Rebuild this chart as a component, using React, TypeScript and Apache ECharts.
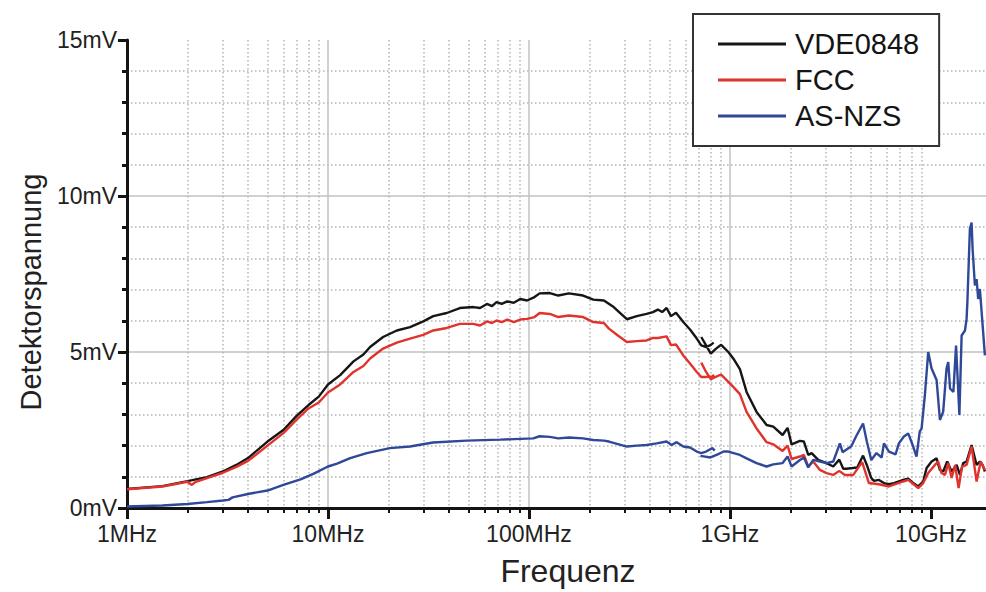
import React, { useEffect, useRef } from 'react';
import * as echarts from 'echarts';

// ---------- data (frequency in MHz, detector voltage in mV) ----------
const decadeTicks = [1, 10, 100, 1000, 10000];
const decadeLabels = ['1MHz', '10MHz', '100MHz', '1GHz', '10GHz'];
const minorTickValues = [
  2, 3, 4, 5, 6, 7, 8, 9,
  20, 30, 40, 50, 60, 70, 80, 90,
  200, 300, 400, 500, 600, 700, 800, 900,
  2000, 3000, 4000, 5000, 6000, 7000, 8000, 9000,
];
const yTickValues = [0, 5, 10, 15];

// VDE0848 (black) – first sweep
const vdeFreqA = [1, 1.5, 2, 2.5, 3, 3.5, 4, 5, 6, 7, 8, 9, 10, 11.5, 13.4, 15, 16.2, 18.8, 22, 25.6, 29.8, 33.4, 39, 45.3, 52.9, 57.1, 61.8, 65.5, 69, 73.2, 78, 84, 90.5, 97.8, 106.6, 113, 127, 140, 158, 186, 209, 236, 264, 290, 307, 344, 385, 414, 438, 460, 484, 509, 539, 586, 633, 684, 720, 761, 800, 830];
const vdeValA = [0.61, 0.70, 0.86, 0.99, 1.17, 1.38, 1.60, 2.13, 2.50, 2.96, 3.30, 3.57, 3.96, 4.26, 4.70, 4.92, 5.16, 5.48, 5.69, 5.80, 5.98, 6.15, 6.25, 6.41, 6.44, 6.41, 6.54, 6.47, 6.60, 6.54, 6.62, 6.58, 6.70, 6.65, 6.76, 6.88, 6.89, 6.81, 6.88, 6.81, 6.68, 6.65, 6.44, 6.20, 6.05, 6.15, 6.22, 6.28, 6.36, 6.28, 6.41, 6.15, 6.26, 5.96, 5.72, 5.43, 5.21, 5.16, 5.22, 5.30];
// VDE0848 (black) – second sweep
const vdeFreqB = [720, 761, 803, 850, 904, 982, 1050, 1121, 1210, 1357, 1522, 1643, 1828, 1936, 2027, 2230, 2334, 2453, 2549, 2750, 3026, 3267, 3500, 3663, 3788, 4079, 4300, 4596, 4800, 5050, 5206, 5512, 5837, 6181, 6546, 7283, 7712, 8166, 8647, 9157, 9520, 10081, 10675, 11088, 11514, 12053, 12679, 13427, 13945, 14479, 15050, 15940, 16880, 17530, 18078, 18565];
const vdeValB = [5.48, 5.21, 4.95, 5.10, 5.23, 5.00, 4.75, 4.45, 3.72, 3.08, 2.66, 2.61, 2.34, 2.57, 2.04, 2.15, 2.13, 1.70, 1.76, 1.54, 1.44, 1.33, 1.55, 1.26, 1.26, 1.28, 1.30, 1.68, 1.38, 0.96, 0.87, 0.90, 0.80, 0.76, 0.80, 0.90, 0.94, 0.80, 0.69, 0.85, 1.28, 1.49, 1.59, 1.22, 1.17, 1.49, 1.17, 1.38, 1.06, 1.44, 1.49, 2.02, 1.38, 1.49, 1.38, 1.17];

// FCC (red)
const fccFreqA = [1, 1.5, 2, 2.1, 2.2, 2.5, 3, 3.5, 4, 5, 6, 7, 8, 9, 10, 11.5, 13.4, 15, 16.2, 18.8, 22, 25.6, 29.8, 33.4, 39, 45.3, 52.9, 57.1, 61.8, 65.5, 69, 73.2, 78, 84, 90.5, 97.8, 106.6, 113, 127, 140, 158, 186, 209, 236, 250, 277, 307, 344, 385, 414, 438, 484, 509, 539, 586, 633, 684, 720, 761, 818, 835];
const fccValA = [0.60, 0.69, 0.84, 0.74, 0.84, 0.96, 1.13, 1.32, 1.51, 2.00, 2.40, 2.84, 3.19, 3.38, 3.70, 3.96, 4.36, 4.55, 4.79, 5.11, 5.30, 5.43, 5.55, 5.69, 5.77, 5.90, 5.90, 5.85, 5.98, 5.93, 6.01, 5.96, 6.04, 5.96, 6.04, 6.06, 6.12, 6.25, 6.22, 6.12, 6.17, 6.12, 5.96, 5.93, 5.75, 5.53, 5.32, 5.35, 5.37, 5.45, 5.45, 5.50, 5.22, 5.24, 4.89, 4.63, 4.36, 4.20, 4.20, 4.22, 4.26];
const fccFreqB = [720, 761, 803, 850, 904, 982, 1050, 1121, 1210, 1357, 1522, 1643, 1828, 1936, 2027, 2230, 2334, 2453, 2598, 2803, 3026, 3267, 3499, 3733, 4108, 4550, 4915, 5512, 6181, 7283, 7712, 8647, 9157, 9696, 10469, 10872, 11290, 11750, 12200, 12679, 13200, 13735, 14290, 15050, 15940, 16880, 17690, 18565];
const fccValB = [4.66, 4.36, 4.13, 4.20, 4.28, 4.04, 3.85, 3.65, 3.08, 2.55, 2.11, 2.04, 1.83, 2.00, 1.57, 1.65, 1.70, 1.33, 1.49, 1.22, 1.12, 1.06, 1.19, 1.06, 1.06, 1.47, 0.80, 0.76, 0.69, 0.85, 0.90, 0.64, 0.80, 1.12, 1.38, 1.49, 1.12, 1.06, 1.44, 0.96, 1.38, 0.64, 1.33, 1.38, 1.97, 0.85, 1.49, 1.22];

// AS-NZS (blue)
const asFreqA = [1, 1.5, 2, 2.5, 3, 3.2, 3.35, 4, 5, 6, 7.3, 8.5, 10, 11.1, 12.9, 15.6, 20.3, 25.6, 33.3, 49, 72, 105, 113, 127, 140, 158, 186, 209, 236, 250, 277, 307, 344, 385, 432, 484, 513, 543, 586, 633, 684, 720, 761, 818, 840];
const asValA = [0.05, 0.08, 0.13, 0.19, 0.24, 0.26, 0.34, 0.45, 0.56, 0.74, 0.92, 1.10, 1.33, 1.42, 1.60, 1.76, 1.92, 1.97, 2.10, 2.16, 2.19, 2.23, 2.30, 2.28, 2.23, 2.26, 2.23, 2.18, 2.16, 2.13, 2.05, 1.97, 2.00, 2.02, 2.07, 2.13, 2.02, 2.11, 1.97, 1.94, 1.81, 1.76, 1.81, 1.92, 1.84];
const asFreqB = [713, 800, 870, 930, 982, 1121, 1210, 1357, 1522, 1643, 1828, 1936, 2027, 2230, 2334, 2453, 2598, 2803, 3026, 3267, 3526, 3636, 3788, 4020, 4240, 4596, 4800, 5050, 5360, 5690, 5837, 6181, 6670, 6930, 7340, 7712, 8166, 8480, 8800, 8990, 9333, 9696, 10081, 10675, 11088, 11514, 11960, 12200, 12450, 12940, 13340, 13860, 14218, 14780, 15050, 15190, 15631, 15940, 16125, 16555, 16880, 17190, 17530, 18565];
const asValB = [1.67, 1.62, 1.72, 1.81, 1.81, 1.70, 1.59, 1.44, 1.33, 1.40, 1.44, 1.65, 1.33, 1.54, 1.62, 1.30, 1.54, 1.49, 1.44, 1.49, 2.07, 1.79, 1.87, 1.98, 2.29, 2.71, 2.13, 1.54, 1.76, 1.62, 2.07, 1.81, 1.72, 2.07, 2.29, 2.39, 1.97, 1.65, 2.45, 2.55, 3.62, 5.00, 4.47, 4.10, 2.82, 3.09, 4.47, 4.68, 3.83, 3.72, 5.21, 2.98, 5.53, 5.69, 6.06, 6.60, 8.94, 9.15, 8.30, 7.13, 7.34, 6.70, 7.02, 4.89];

const seriesNames = ['VDE0848', 'FCC', 'AS-NZS'];
const seriesColors = ['#161616', '#e0332e', '#2f4898'];

// ---------- helpers ----------
const pairs = (f: number[], v: number[]) => f.map((x, i) => [x, v[i]]);
const sweeps = (fa: number[], va: number[], fb: number[], vb: number[]) => [
  ...pairs(fa, va),
  ['-', '-'],
  ...pairs(fb, vb),
];

const FONT = '"Liberation Sans", Arial, Helvetica, sans-serif';
const INK = '#141414';

export default function App() {
  const ref = useRef<HTMLDivElement>(null);
  useEffect(() => {
    if (!ref.current) return;
    const chart = echarts.init(ref.current, null, { renderer: 'svg' });
    const data = [
      sweeps(vdeFreqA, vdeValA, vdeFreqB, vdeValB),
      sweeps(fccFreqA, fccValA, fccFreqB, fccValB),
      sweeps(asFreqA, asValA, asFreqB, asValB),
    ];
    const option: any = {
      animation: false,
      backgroundColor: '#ffffff',
      textStyle: { fontFamily: FONT },
      grid: { left: 127, right: 0, top: 40, bottom: 82, containLabel: false },
      legend: {
        left: 693,
        top: 14,
        orient: 'vertical',
        icon: 'rect',
        itemWidth: 68,
        itemHeight: 3,
        itemGap: 6,
        padding: [15, 20, 15, 25],
        borderColor: '#333333',
        borderWidth: 2,
        backgroundColor: '#ffffff',
        textStyle: { fontSize: 29, color: INK, fontFamily: FONT, lineHeight: 30, padding: [0, 0, 0, 4] },
        data: seriesNames,
      },
      xAxis: [
        {
          type: 'log',
          logBase: 10,
          min: 1,
          max: 18800,
          position: 'bottom',
          axisLine: { show: true, onZero: false, lineStyle: { color: INK, width: 3 } },
          axisTick: { show: true, length: 11, customValues: decadeTicks, lineStyle: { color: INK, width: 3 } },
          axisLabel: {
            show: true,
            customValues: decadeTicks,
            fontSize: 23,
            color: '#222',
            fontFamily: FONT,
            margin: 14,
            formatter: (v: number) => {
              const i = decadeTicks.findIndex((t) => Math.abs(t - v) / t < 1e-6);
              return i >= 0 ? decadeLabels[i] : '';
            },
          },
          splitLine: { show: true, showMinLine: false, showMaxLine: false, lineStyle: { color: '#c2c2c2', width: 1.5 } },
          name: 'Frequenz',
          nameLocation: 'middle',
          nameGap: 47,
          nameTextStyle: { fontSize: 32, color: '#222', fontFamily: FONT, padding: [0, 0, 0, 23] },
        },
        {
          type: 'log',
          logBase: 10,
          min: 1,
          max: 18800,
          position: 'bottom',
          axisLine: { show: false },
          axisLabel: { show: false },
          axisTick: { show: true, length: 5, customValues: minorTickValues, lineStyle: { color: INK, width: 2 } },
          splitLine: { show: true, lineStyle: { color: '#b5b5b5', width: 1.5, type: [1.5, 2.5] } },
        },
      ],
      yAxis: [
        {
          type: 'value',
          min: 0,
          max: 15,
          interval: 5,
          axisLine: { show: true, onZero: false, lineStyle: { color: INK, width: 3 } },
          axisTick: { show: true, length: 9, lineStyle: { color: INK, width: 3 } },
          minorTick: { show: true, splitNumber: 5, length: 5, lineStyle: { color: INK, width: 3 } },
          axisLabel: {
            fontSize: 23,
            color: '#222',
            fontFamily: FONT,
            margin: 10,
            formatter: (v: number) => (yTickValues.includes(v) ? `${v}mV` : ''),
          },
          splitLine: { show: true, showMinLine: false, showMaxLine: false, lineStyle: { color: '#c2c2c2', width: 1.5 } },
          minorSplitLine: { show: true, lineStyle: { color: '#b5b5b5', width: 1.5, type: [1.5, 2.5] } },
          name: 'Detektorspannung',
          nameLocation: 'middle',
          nameGap: 82,
          nameTextStyle: { fontSize: 29, color: '#222', fontFamily: FONT, padding: [0, 36, 0, 0] },
        },
      ],
      series: seriesNames.map((name, i) => ({
        name,
        type: 'line',
        xAxisIndex: 0,
        yAxisIndex: 0,
        data: data[i],
        showSymbol: false,
        symbol: 'none',
        connectNulls: false,
        color: seriesColors[i],
        lineStyle: { color: seriesColors[i], width: 2.4 },
        z: i === 0 ? 3 : i === 1 ? 4 : 5,
      })),
    };
    chart.setOption(option);
    return () => chart.dispose();
  }, []);
  return (
    <div
      ref={ref}
      style={{ position: 'absolute', left: 0, top: 0, width: 986, height: 592, background: '#fff' }}
    />
  );
}
